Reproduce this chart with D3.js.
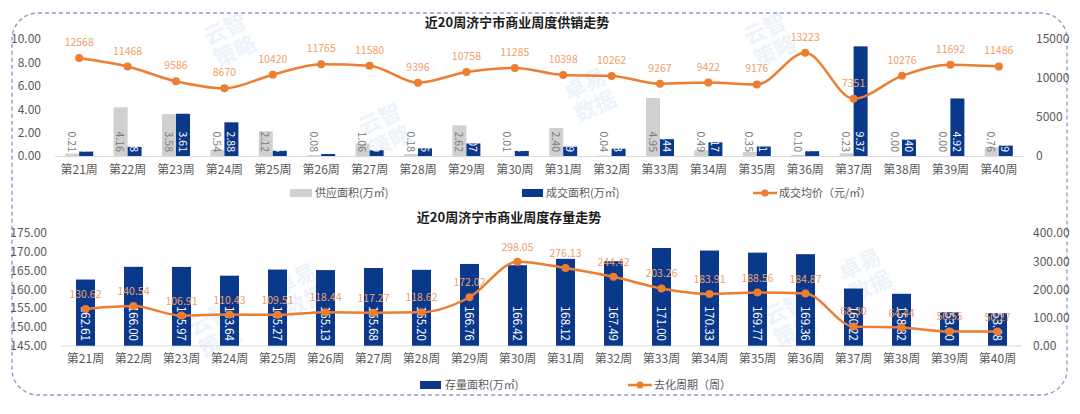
<!DOCTYPE html>
<html><head><meta charset="utf-8">
<script src="https://cdn.jsdelivr.net/npm/d3@7"></script>
<style>
html,body{margin:0;padding:0;background:#fff;}
svg{display:block;font-family:"Noto Sans CJK SC","Microsoft YaHei",sans-serif;}
</style></head>
<body><svg id="c" width="1080" height="414"></svg>
<script>
const weeks = ['第21周','第22周','第23周','第24周','第25周','第26周','第27周','第28周','第29周','第30周','第31周','第32周','第33周','第34周','第35周','第36周','第37周','第38周','第39周','第40周'];
const supply = [0.21,4.16,3.58,0.54,2.12,0.08,1.06,0.18,2.62,0.01,2.40,0.04,4.95,0.49,0.35,0.10,0.23,0.00,0.00,0.76];
const deal = [0.38,0.78,3.61,2.88,0.45,0.17,0.49,0.65,1.07,0.43,0.79,0.63,1.44,1.17,0.81,0.41,9.37,1.40,4.92,0.89];
const price = [12568,11468,9586,8670,10420,11765,11580,9396,10758,11285,10398,10262,9267,9422,9176,13223,7351,10276,11692,11486];
const stock = [162.61,166.00,165.97,163.64,165.27,165.13,165.68,165.20,166.76,166.42,168.12,167.49,171.00,170.33,169.77,169.36,160.22,158.82,153.90,153.68];
const cycle = [130.62,140.54,106.91,110.43,109.51,118.44,117.27,118.62,172.02,298.05,276.13,244.42,203.26,183.91,188.56,184.87,68.30,64.44,50.55,50.27];
const topLeftTicks = [0,2,4,6,8,10];
const topRightTicks = [0,5000,10000,15000];
const botLeftTicks = [145,150,155,160,165,170,175];
const botRightTicks = [0,100,200,300,400];

const BLUE = '#0a388a', GRAY = '#d0d0d0', ORANGE = '#ed7d31', LBL = '#f0a068', TXT = '#595959';
const svg = d3.select('#c');

// border
svg.append('rect').attr('x',12).attr('y',13).attr('width',1055).attr('height',382)
  .attr('rx',26).attr('ry',26).attr('fill','none').attr('stroke','#8e9ec9')
  .attr('stroke-width',1.4).attr('stroke-dasharray','4,3');

// watermarks
const wm = [[230,40,'云智','策略'],[770,40,'云智','策略'],[385,130,'云智','策略'],[590,95,'卓易','数据'],[300,290,'卓易','数据'],[215,330,'云智','策略'],[865,275,'卓易','数据'],[790,320,'云智','策略']];
wm.forEach(([x,y,a,b])=>{
  const g = svg.append('g').attr('transform',`translate(${x},${y}) rotate(-25)`).attr('opacity',0.09);
  g.append('text').attr('x',0).attr('y',-4).attr('text-anchor','middle').attr('font-size',22).attr('font-weight','bold').attr('fill','#3f7fd0').text(a);
  g.append('text').attr('x',0).attr('y',20).attr('text-anchor','middle').attr('font-size',22).attr('font-weight','bold').attr('fill','#3f7fd0').text(b);
});

function styleAxis(g){
  g.select('.domain').remove();
  g.selectAll('.tick line').remove();
  g.selectAll('text').attr('fill',TXT).attr('font-size',12).attr('font-family','"Noto Sans CJK SC",sans-serif');
}

// ===== TOP CHART =====
{
  const x = d3.scaleBand().domain(weeks).range([55,1023]);
  const yL = d3.scaleLinear().domain([0,10]).range([156,39]);
  const yR = d3.scaleLinear().domain([0,15000]).range([156,39]);
  const bw = 14;
  svg.append('text').attr('x',517).attr('y',27).attr('text-anchor','middle').attr('font-size',13).attr('font-weight','bold').attr('fill','#1a1a1a').text('近20周济宁市商业周度供销走势');
  svg.append('g').attr('transform','translate(50,0)').call(d3.axisLeft(yL).tickValues(topLeftTicks).tickFormat(d3.format('.2f'))).call(styleAxis);
  svg.append('g').attr('transform','translate(1027,0)').call(d3.axisRight(yR).tickValues(topRightTicks).tickFormat(d=>d)).call(styleAxis);
  svg.append('line').attr('x1',55).attr('x2',1023).attr('y1',156.5).attr('y2',156.5).attr('stroke','#d9d9d9');
  const cx = d => x(d)+x.bandwidth()/2;
  svg.append('g').selectAll('rect').data(weeks).join('rect')
    .attr('x',(d)=>cx(d)-bw).attr('width',bw)
    .attr('y',(d,i)=>yL(supply[i])).attr('height',(d,i)=>yL(0)-yL(supply[i])).attr('fill',GRAY);
  svg.append('g').selectAll('rect').data(weeks).join('rect')
    .attr('x',(d)=>cx(d)).attr('width',bw)
    .attr('y',(d,i)=>yL(deal[i])).attr('height',(d,i)=>yL(0)-yL(deal[i])).attr('fill',BLUE);
  weeks.forEach((d,i)=>{
    svg.append('text').attr('transform',`translate(${cx(d)-bw/2},152) rotate(90)`)
      .attr('text-anchor','end').attr('dominant-baseline','central').attr('font-size',10.5).attr('fill','#7a7a7a').text(supply[i].toFixed(2));
    svg.append('text').attr('transform',`translate(${cx(d)+bw/2},152) rotate(90)`)
      .attr('text-anchor','end').attr('dominant-baseline','central').attr('font-size',10.5).attr('fill','#ffffff').text(deal[i].toFixed(2));
  });
  weeks.forEach(d=>{
    svg.append('text').attr('x',cx(d)).attr('y',174).attr('text-anchor','middle').attr('font-size',12).attr('fill',TXT).text(d);
  });
  const line = d3.line().x((d,i)=>cx(weeks[i])).y(d=>yR(d)).curve(d3.curveMonotoneX);
  svg.append('path').datum(price).attr('d',line).attr('fill','none').attr('stroke',ORANGE).attr('stroke-width',2.5);
  svg.append('g').selectAll('circle').data(price).join('circle').attr('cx',(d,i)=>cx(weeks[i])).attr('cy',d=>yR(d)).attr('r',4).attr('fill',ORANGE);
  svg.append('g').selectAll('text').data(price).join('text').attr('x',(d,i)=>cx(weeks[i])).attr('y',d=>yR(d)-12)
    .attr('text-anchor','middle').attr('font-size',10.5).attr('fill',LBL).text(d=>d);
  svg.append('rect').attr('x',290).attr('y',189).attr('width',22).attr('height',8).attr('fill',GRAY);
  svg.append('text').attr('x',315).attr('y',197).attr('font-size',11).attr('fill',TXT).text('供应面积(万㎡)');
  svg.append('rect').attr('x',522).attr('y',189).attr('width',21).attr('height',8).attr('fill',BLUE);
  svg.append('text').attr('x',546).attr('y',197).attr('font-size',11).attr('fill',TXT).text('成交面积(万㎡)');
  svg.append('line').attr('x1',753).attr('x2',777).attr('y1',193).attr('y2',193).attr('stroke',ORANGE).attr('stroke-width',2.5);
  svg.append('circle').attr('cx',765).attr('cy',193).attr('r',3.5).attr('fill',ORANGE);
  svg.append('text').attr('x',779).attr('y',197).attr('font-size',11).attr('fill',TXT).text('成交均价（元/㎡）');
}

// ===== BOTTOM CHART =====
{
  const x = d3.scaleBand().domain(weeks).range([61.5,1021.5]);
  const yL = d3.scaleLinear().domain([145,175]).range([345.7,233]);
  const yR = d3.scaleLinear().domain([0,400]).range([345.7,233]);
  const bw = 19;
  const cx = d => x(d)+x.bandwidth()/2;
  svg.append('text').attr('x',509).attr('y',222).attr('text-anchor','middle').attr('font-size',13).attr('font-weight','bold').attr('fill','#1a1a1a').text('近20周济宁市商业周度存量走势');
  svg.append('g').attr('transform','translate(56,0)').call(d3.axisLeft(yL).tickValues(botLeftTicks).tickFormat(d3.format('.2f'))).call(styleAxis);
  svg.append('g').attr('transform','translate(1024,0)').call(d3.axisRight(yR).tickValues(botRightTicks).tickFormat(d3.format('.2f'))).call(styleAxis);
  svg.append('line').attr('x1',61).attr('x2',1022).attr('y1',346).attr('y2',346).attr('stroke','#d9d9d9');
  svg.append('g').selectAll('rect').data(weeks).join('rect')
    .attr('x',d=>cx(d)-bw/2).attr('width',bw)
    .attr('y',(d,i)=>yL(stock[i])).attr('height',(d,i)=>yL(145)-yL(stock[i])).attr('fill',BLUE);
  weeks.forEach((d,i)=>{
    svg.append('text').attr('transform',`translate(${cx(d)},341) rotate(90)`)
      .attr('text-anchor','end').attr('dominant-baseline','central').attr('font-size',11.5).attr('fill','#ffffff').text(stock[i].toFixed(2));
    svg.append('text').attr('x',cx(d)).attr('y',363).attr('text-anchor','middle').attr('font-size',12).attr('fill',TXT).text(d);
  });
  const line = d3.line().x((d,i)=>cx(weeks[i])).y(d=>yR(d)).curve(d3.curveMonotoneX);
  svg.append('path').datum(cycle).attr('d',line).attr('fill','none').attr('stroke',ORANGE).attr('stroke-width',2.5);
  svg.append('g').selectAll('circle').data(cycle).join('circle').attr('cx',(d,i)=>cx(weeks[i])).attr('cy',d=>yR(d)).attr('r',4).attr('fill',ORANGE);
  svg.append('g').selectAll('text').data(cycle).join('text').attr('x',(d,i)=>cx(weeks[i])).attr('y',d=>yR(d)-11)
    .attr('text-anchor','middle').attr('font-size',10.5).attr('fill',LBL).text(d=>d.toFixed(2));
  svg.append('rect').attr('x',420).attr('y',381).attr('width',21).attr('height',8).attr('fill',BLUE);
  svg.append('text').attr('x',445).attr('y',389).attr('font-size',11).attr('fill',TXT).text('存量面积(万㎡)');
  svg.append('line').attr('x1',628).attr('x2',652).attr('y1',385).attr('y2',385).attr('stroke',ORANGE).attr('stroke-width',2.5);
  svg.append('circle').attr('cx',640).attr('cy',385).attr('r',3.5).attr('fill',ORANGE);
  svg.append('text').attr('x',654).attr('y',389).attr('font-size',11).attr('fill',TXT).text('去化周期（周）');
}
</script></body></html>
